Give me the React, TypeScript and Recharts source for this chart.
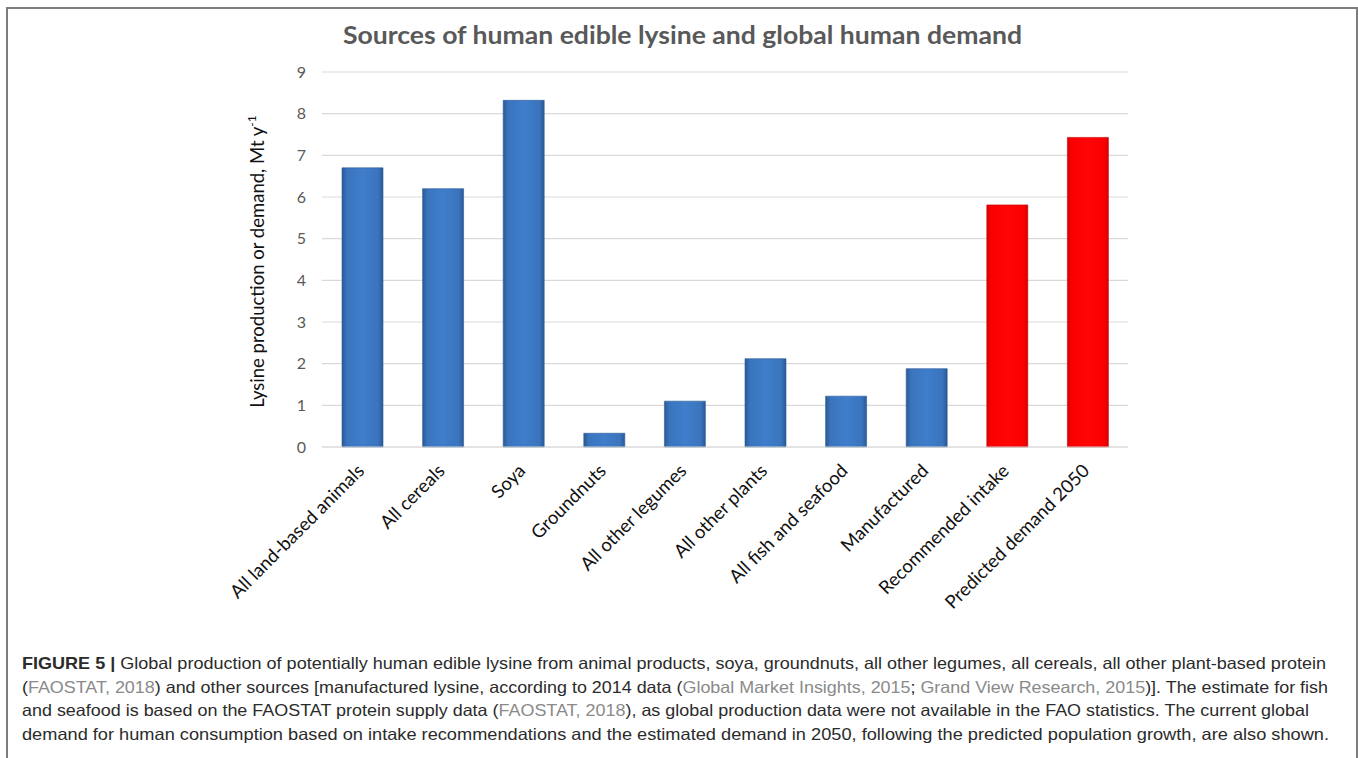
import { BarChart, Bar, XAxis, YAxis, CartesianGrid, Cell } from "recharts";

const categories = [
  "All land-based animals",
  "All cereals",
  "Soya",
  "Groundnuts",
  "All other legumes",
  "All other plants",
  "All fish and seafood",
  "Manufactured",
  "Recommended intake",
  "Predicted demand 2050",
];
const lysine = [6.7, 6.2, 8.32, 0.33, 1.1, 2.12, 1.22, 1.88, 5.81, 7.43];
const kinds = ["source", "source", "source", "source", "source", "source", "source", "source", "demand", "demand"];
const yTicks = [0, 1, 2, 3, 4, 5, 6, 7, 8, 9];

const title = "Sources of human edible lysine and global human demand";
const yLabel = "Lysine production or demand, Mt y";

// caption lines: [text, style] with b = bold, g = grey citation
const captionLines: [string, string][][] = [
  [
    ["FIGURE 5 | ", "b"],
    ["Global production of potentially human edible lysine from animal products, soya, groundnuts, all other legumes, all cereals, all other plant-based protein", ""],
  ],
  [
    ["(", ""],
    ["FAOSTAT, 2018", "g"],
    [") and other sources [manufactured lysine, according to 2014 data (", ""],
    ["Global Market Insights, 2015", "g"],
    ["; ", ""],
    ["Grand View Research, 2015", "g"],
    [")]. The estimate for fish", ""],
  ],
  [
    ["and seafood is based on the FAOSTAT protein supply data (", ""],
    ["FAOSTAT, 2018", "g"],
    ["), as global production data were not available in the FAO statistics. The current global", ""],
  ],
  [["demand for human consumption based on intake recommendations and the estimated demand in 2050, following the predicted population growth, are also shown.", ""]],
];
const captionWidths = [1304, 1306, 1287, 1307];

const data = categories.map((name, i) => ({ name, value: lysine[i], kind: kinds[i] }));

const XTick = (props: any) => {
  const { x, y, payload } = props;
  const px = x + 3;
  const py = y + 17;
  return (
    <text
      x={px}
      y={py}
      transform={`rotate(-45, ${px}, ${py})`}
      textAnchor="end"
      fontFamily="Lato, sans-serif"
      fontSize={18.5}
      fill="#111"
    >
      {payload.value}
    </text>
  );
};

const renderYLabel = (props: any) => {
  const vb = props.viewBox || { x: 212, y: 72, width: 110, height: 375 };
  const x = vb.x + 52;
  const y = vb.y + vb.height / 2 + 2;
  return (
    <text
      x={x}
      y={y}
      transform={`rotate(-90, ${x}, ${y})`}
      textAnchor="middle"
      fontFamily="Lato, sans-serif"
      fontSize={18.5}
      fill="#111"
    >
      {yLabel}
      <tspan dy={-8} fontSize={12}>
        -1
      </tspan>
    </text>
  );
};

export default function App() {
  return (
    <div
      style={{
        position: "absolute",
        left: 0,
        top: 0,
        width: 1358,
        height: 758,
        overflow: "hidden",
        background: "#fff",
      }}
    >
      <div
        style={{
          position: "absolute",
          left: 6,
          top: 7,
          width: 1348,
          height: 780,
          border: "2px solid #7d7d7d",
        }}
      />
      <div style={{ position: "absolute", left: 0, top: 0 }}>
        <BarChart
          width={1358}
          height={620}
          data={data}
          margin={{ top: 72, right: 230, left: 212, bottom: 0 }}
        >
          <defs>
            <linearGradient id="blueBar" x1="0" y1="0" x2="1" y2="0">
              <stop offset="0%" stopColor="#2a5a96" />
              <stop offset="12%" stopColor="#3a74bd" />
              <stop offset="50%" stopColor="#3f7ecb" />
              <stop offset="88%" stopColor="#3a74bd" />
              <stop offset="100%" stopColor="#2a5a96" />
            </linearGradient>
            <linearGradient id="redBar" x1="0" y1="0" x2="1" y2="0">
              <stop offset="0%" stopColor="#d80000" />
              <stop offset="10%" stopColor="#fa0000" />
              <stop offset="50%" stopColor="#ff0505" />
              <stop offset="90%" stopColor="#fa0000" />
              <stop offset="100%" stopColor="#d80000" />
            </linearGradient>
          </defs>
          <CartesianGrid vertical={false} stroke="#d9d9d9" strokeWidth={1.2} />
          <XAxis
            dataKey="name"
            interval={0}
            height={173}
            tickLine={false}
            axisLine={{ stroke: "#d9d9d9", strokeWidth: 1.2 }}
            tick={<XTick />}
          />
          <YAxis
            domain={[0, 9]}
            ticks={yTicks}
            width={110}
            axisLine={false}
            tickLine={false}
            tickMargin={10}
            tick={{ fill: "#595959", fontSize: 16, fontFamily: "Lato, sans-serif" }}
            label={{ content: renderYLabel }}
          />
          <Bar dataKey="value" barSize={41} isAnimationActive={false}>
            {data.map((d, i) => (
              <Cell
                key={i}
                fill={d.kind === "demand" ? "url(#redBar)" : "url(#blueBar)"}
                stroke={d.kind === "demand" ? "#c80000" : "#2a5a96"}
                strokeWidth={0.6}
              />
            ))}
          </Bar>
        </BarChart>
      </div>
      <svg
        width={1358}
        height={758}
        style={{ position: "absolute", left: 0, top: 0, pointerEvents: "none" }}
      >
        <text
          x={343}
          y={44}
          textLength={679}
          lengthAdjust="spacingAndGlyphs"
          fontFamily="Lato, sans-serif"
          fontWeight={700}
          fontSize={25}
          fill="#595959"
        >
          {title}
        </text>
        {captionLines.map((line, li) => (
          <text
            key={li}
            x={22}
            y={669 + li * 23.7}
            textLength={captionWidths[li]}
            lengthAdjust="spacingAndGlyphs"
            fontFamily="'Liberation Sans', Arial, sans-serif"
            fontSize={16.5}
            fill="#2b2b2b"
          >
            {line.map(([t, s], si) => (
              <tspan
                key={si}
                fontWeight={s === "b" ? 700 : 400}
                fill={s === "g" ? "#8a8a8a" : "#2b2b2b"}
              >
                {t}
              </tspan>
            ))}
          </text>
        ))}
      </svg>
    </div>
  );
}
